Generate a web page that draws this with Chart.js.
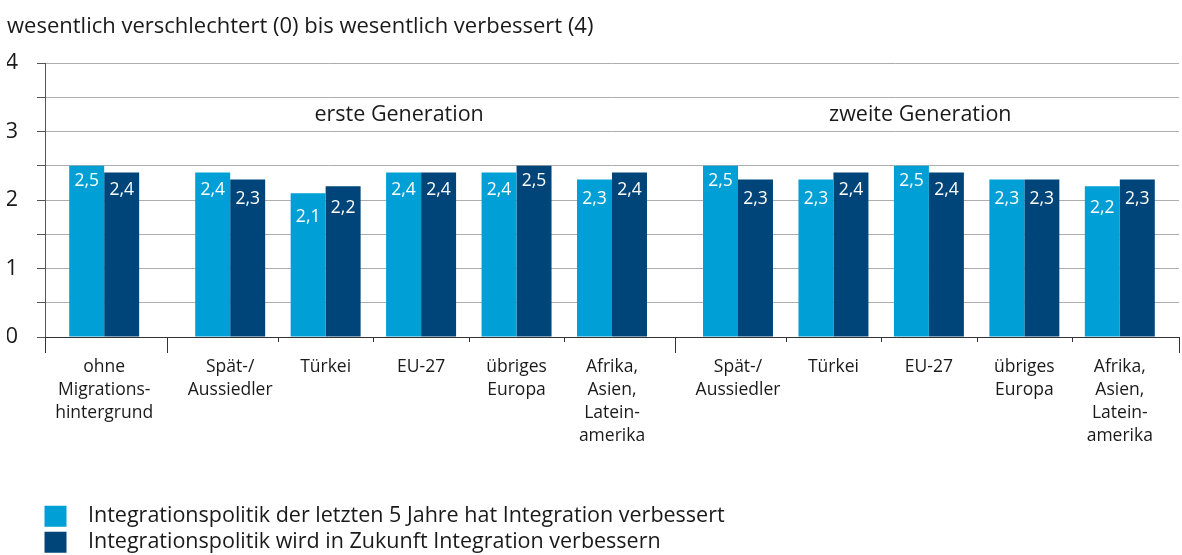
<!DOCTYPE html>
<html lang="de">
<head>
<meta charset="utf-8">
<title>Integrationspolitik</title>
<script src="https://cdn.jsdelivr.net/npm/chart.js@4/dist/chart.umd.min.js"></script>
<style>
  html, body { margin: 0; padding: 0; background: #fff; }
  #wrap { width: 1182px; height: 555px; }
</style>
</head>
<body>
<div id="wrap"><canvas id="integration-chart"></canvas></div>
<script>
// Kategorien (mehrzeilige Achsenbeschriftungen)
var categories = [
    ["ohne", "Migrations-", "hintergrund"],
    ["Spät-/", "Aussiedler"],
    ["Türkei"],
    ["EU-27"],
    ["übriges", "Europa"],
    ["Afrika,", "Asien,", "Latein-", "amerika"],
    ["Spät-/", "Aussiedler"],
    ["Türkei"],
    ["EU-27"],
    ["übriges", "Europa"],
    ["Afrika,", "Asien,", "Latein-", "amerika"],
];
// Gruppe je Kategorie: 0 = ohne Migrationshintergrund, 1 = erste, 2 = zweite Generation
var groups = [0, 1, 1, 1, 1, 1, 2, 2, 2, 2, 2];
var groupTitles = ["", "erste Generation", "zweite Generation"];

var seriesNames = [
    "Integrationspolitik der letzten 5 Jahre hat Integration verbessert",
    "Integrationspolitik wird in Zukunft Integration verbessern",
];
var pastValues = [2.5, 2.4, 2.1, 2.4, 2.4, 2.3, 2.5, 2.3, 2.5, 2.3, 2.2];
var futureValues = [2.4, 2.3, 2.2, 2.4, 2.5, 2.4, 2.3, 2.4, 2.4, 2.3, 2.3];

var yTickLabels = ["0", "1", "2", "3", "4"];
var axisTitle = "wesentlich verschlechtert (0) bis wesentlich verbessert (4)";

// Layout: Abstand zwischen den Gruppen (in Kategorienbreiten)
var GAP = 0.32;
var EDGE = 0.62;
var positions = categories.map(function (c, i) { return i + groups[i] * GAP; });

var FONT = '"Open Sans", "DejaVu Sans", sans-serif';
var TEXT = "#1a1a1a";

function fmt(v) {
    return v.toFixed(1).replace(".", ",");
}

var decorations = {
    id: "decorations",
    afterLayout: function (chart) {
        // Legende an der Achse ausrichten
        var lg = chart.legend;
        lg.left = chart.chartArea.left - 5;
        lg.top += 8;
        lg.bottom += 8;
    },
    afterDatasetsDraw: function (chart) {
        var ctx = chart.ctx;
        var xs = chart.scales.x;
        var ys = chart.scales.y;
        ctx.save();

        // Werte in den Balken
        ctx.fillStyle = "#fff";
        ctx.font = "17.5px " + FONT;
        ctx.textAlign = "center";
        ctx.textBaseline = "middle";
        chart.data.datasets.forEach(function (ds, di) {
            chart.getDatasetMeta(di).data.forEach(function (bar, i) {
                var v = ds.data[i].y;
                ctx.fillText(fmt(v), bar.x, bar.y + 15 + (2.5 - v) * 22);
            });
        });

        // Gruppentitel
        ctx.fillStyle = TEXT;
        ctx.font = "21.5px " + FONT;
        var anchors = [null, 3.09, 8.55];
        groupTitles.forEach(function (t, g) {
            if (!t) return;
            ctx.fillText(t, xs.getPixelForValue(anchors[g]), ys.getPixelForValue(3.25));
        });

        // Teilstriche zwischen den Kategorien
        var bottom = chart.chartArea.bottom;
        ctx.strokeStyle = "#333";
        ctx.lineWidth = 1;
        var marks = [{ v: xs.min, long: true }];
        for (var i = 1; i < positions.length; i++) {
            marks.push({ v: (positions[i - 1] + positions[i]) / 2, long: groups[i] !== groups[i - 1] });
        }
        marks.push({ v: xs.max, long: true });
        marks.forEach(function (m) {
            var x = Math.round(xs.getPixelForValue(m.v)) + 0.5;
            if (x > chart.width - 1) x = chart.width - 3.5;
            ctx.beginPath();
            ctx.moveTo(x, bottom);
            ctx.lineTo(x, bottom + (m.long ? 16 : 5));
            ctx.stroke();
        });
        ctx.restore();
    },
};

var ctx = document.getElementById("integration-chart").getContext("2d");

new Chart(ctx, {
    type: "bar",
    data: {
        datasets: [
            {
                label: seriesNames[0],
                data: pastValues.map(function (v, i) { return { x: positions[i], y: v }; }),
                backgroundColor: "#009fd5",
            },
            {
                label: seriesNames[1],
                data: futureValues.map(function (v, i) { return { x: positions[i], y: v }; }),
                backgroundColor: "#004579",
            },
        ],
    },
    options: {
        responsive: true,
        maintainAspectRatio: false,
        animation: false,
        categoryPercentage: 0.733,
        barPercentage: 1,
        layout: { padding: { left: 7, right: 3, top: 0, bottom: 0 } },
        plugins: {
            title: {
                display: true,
                text: axisTitle,
                align: "start",
                color: TEXT,
                font: { family: FONT, size: 22, weight: "normal", lineHeight: 1.2 },
                padding: { top: 14, bottom: 22.6 },
            },
            legend: {
                position: "bottom",
                align: "start",
                labels: {
                    color: TEXT,
                    font: { family: FONT, size: 21.5 },
                    boxWidth: 22,
                    boxHeight: 21,
                    padding: 4.5,
                    generateLabels: function (chart) {
                        return chart.data.datasets.map(function (ds, i) {
                            return {
                                text: "\u2002" + ds.label,
                                fillStyle: ds.backgroundColor,
                                strokeStyle: ds.backgroundColor,
                                lineWidth: 0,
                                fontColor: TEXT,
                                datasetIndex: i,
                            };
                        });
                    },
                },
            },
            tooltip: { enabled: false },
        },
        scales: {
            x: {
                type: "linear",
                offset: false,
                min: -EDGE,
                max: positions[positions.length - 1] + EDGE,
                afterBuildTicks: function (scale) {
                    scale.ticks = positions.map(function (p) { return { value: p }; });
                },
                afterFit: function (scale) { scale.height = 156; },
                grid: { display: false, drawTicks: false, offset: false },
                border: { color: "#333", width: 1 },
                ticks: {
                    autoSkip: false,
                    maxRotation: 0,
                    padding: 18,
                    color: TEXT,
                    font: { family: FONT, size: 17.5, lineHeight: 1.33 },
                    callback: function (value, index) { return categories[index]; },
                },
            },
            y: {
                min: 0,
                max: 4,
                afterFit: function (scale) { scale.width = 38; },
                grid: { color: "#adadad", tickColor: "#555", tickLength: 8 },
                border: { color: "#555" },
                ticks: {
                    stepSize: 0.5,
                    padding: 19,
                    color: TEXT,
                    font: { family: FONT, size: 22 },
                    callback: function (v) { return Number.isInteger(v) ? yTickLabels[v] : ""; },
                },
            },
        },
    },
    plugins: [decorations],
});
</script>
</body>
</html>
